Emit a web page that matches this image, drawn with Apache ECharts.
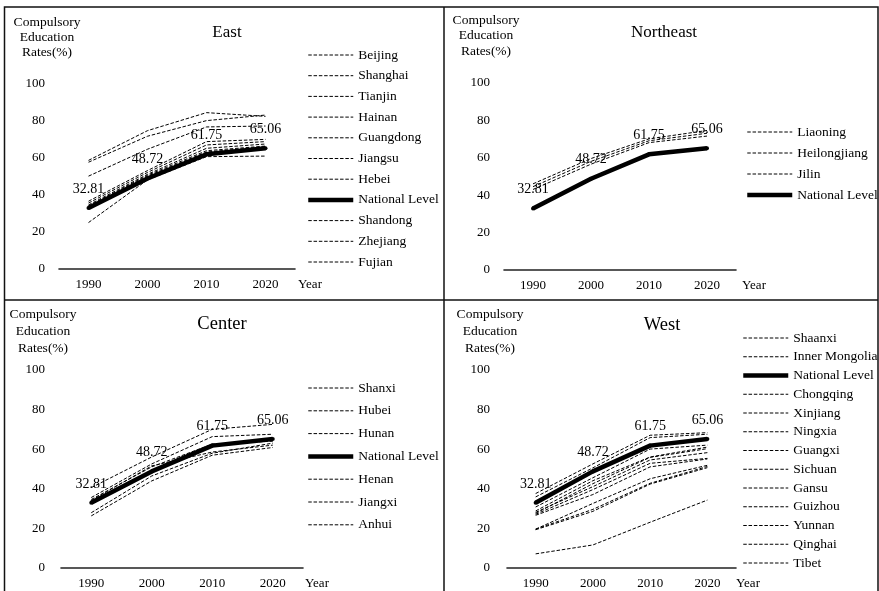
<!DOCTYPE html>
<html>
<head>
<meta charset="utf-8">
<script src="https://cdn.jsdelivr.net/npm/echarts@6/dist/echarts.min.js"></script>
<style>
  html, body { margin: 0; padding: 0; background: #fff; }
  #chart { width: 879px; height: 591px; }
</style>
</head>
<body>
<div id="chart"></div>
<script>
// Census years on the category axis
const years = ['1990', '2000', '2010', '2020'];
// Y-axis ticks (percent)
const yTicks = [0, 20, 40, 60, 80, 100];

// National average, shown in every panel
const nationalLevel = [32.81, 48.72, 61.75, 65.06];

// East
const beijing   = [58.5, 74.5, 84.2, 82.2];
const shanghai  = [57.5, 71.5, 79.9, 82.9];
const tianjin   = [50.0, 64.5, 76.5, 77.0];
const hainan    = [33.5, 50.0, 63.0, 65.8];
const guangdong = [36.5, 53.0, 68.6, 69.8];
const jiangsu   = [35.5, 52.0, 66.8, 68.6];
const hebei     = [25.0, 48.0, 60.5, 60.8];
const shandong  = [34.5, 51.0, 65.0, 67.3];
const zhejiang  = [34.0, 50.5, 63.7, 66.2];
const fujian    = [33.0, 49.5, 62.5, 64.5];

// Northeast
const liaoning     = [46.0, 59.5, 70.0, 74.5];
const heilongjiang = [44.5, 58.0, 69.0, 73.0];
const jilin        = [43.0, 56.5, 68.0, 71.5];

// Center
const shanxi  = [35.5, 52.5, 66.3, 67.5];
const hubei   = [40.5, 56.0, 70.0, 72.5];
const hunan   = [34.5, 51.0, 62.5, 64.0];
const henan   = [27.8, 46.4, 57.9, 63.0];
const jiangxi = [26.2, 43.9, 56.9, 60.8];
const anhui   = [34.0, 51.5, 58.5, 62.0];

// West
const shaanxi       = [37.5, 52.5, 67.0, 68.3];
const innerMongolia = [35.8, 50.5, 65.8, 67.5];
const chongqing     = [30.7, 45.5, 60.0, 62.0];
const xinjiang      = [28.7, 44.0, 56.0, 61.0];
const ningxia       = [27.5, 42.5, 55.8, 60.2];
const guangxi       = [28.0, 41.0, 54.5, 58.2];
const sichuan       = [27.0, 39.5, 52.8, 55.3];
const gansu         = [26.5, 37.0, 51.0, 55.0];
const guizhou       = [19.5, 32.5, 45.0, 51.8];
const yunnan        = [19.5, 29.5, 42.7, 51.2];
const qinghai       = [19.2, 28.5, 42.3, 50.6];
const tibet         = [7.0, 11.5, 23.0, 34.2];

const NATIONAL = 'National Level';
const SERIF = '"Liberation Serif", "Times New Roman", serif';
const DASH = [3.5, 1.8];

// Regions: legend order (National Level placed where it appears in each legend)
const panels = [
  {
    title: 'East',
    series: [['Beijing', beijing], ['Shanghai', shanghai], ['Tianjin', tianjin], ['Hainan', hainan],
             ['Guangdong', guangdong], ['Jiangsu', jiangsu], ['Hebei', hebei], [NATIONAL, nationalLevel],
             ['Shandong', shandong], ['Zhejiang', zhejiang], ['Fujian', fujian]],
    grid: { left: 59, top: 83.3, width: 236, height: 185.7 },
    titlePos: [227, 24], namePos: [47, 15], nameLH: 15,
    legend: { left: 306, top: 48, gap: 6.7, font: 13.5 },
    labelMargin: 14, yearGap: 3
  },
  {
    title: 'Northeast',
    series: [['Liaoning', liaoning], ['Heilongjiang', heilongjiang], ['Jilin', jilin], [NATIONAL, nationalLevel]],
    grid: { left: 504, top: 82.7, width: 232, height: 187.3 },
    titlePos: [664, 24], namePos: [486, 12.5], nameLH: 15.5,
    legend: { left: 745, top: 125, gap: 7, font: 13.5 },
    labelMargin: 14, yearGap: 6
  },
  {
    title: 'Center',
    series: [['Shanxi', shanxi], ['Hubei', hubei], ['Hunan', hunan], [NATIONAL, nationalLevel],
             ['Henan', henan], ['Jiangxi', jiangxi], ['Anhui', anhui]],
    grid: { left: 61, top: 370, width: 242, height: 197.7 },
    titlePos: [222, 315], namePos: [43, 305.5], nameLH: 17,
    legend: { left: 306, top: 381, gap: 8.8, font: 13.5 },
    labelMargin: 16, yearGap: 2
  },
  {
    title: 'West',
    series: [['Shaanxi', shaanxi], ['Inner Mongolia', innerMongolia], [NATIONAL, nationalLevel],
             ['Chongqing', chongqing], ['Xinjiang', xinjiang], ['Ningxia', ningxia], ['Guangxi', guangxi],
             ['Sichuan', sichuan], ['Gansu', gansu], ['Guizhou', guizhou], ['Yunnan', yunnan],
             ['Qinghai', qinghai], ['Tibet', tibet]],
    grid: { left: 507, top: 370, width: 229, height: 197.7 },
    titlePos: [662, 316], namePos: [490, 306], nameLH: 17,
    legend: { left: 741, top: 331, gap: 4.75, font: 13.5 },
    labelMargin: 17, yearGap: 0
  }
];

const grids = [], xAxes = [], yAxes = [], series = [], legends = [], titles = [], graphics = [];

panels.forEach((p, i) => {
  grids.push(Object.assign({ containLabel: false }, p.grid));

  xAxes.push({
    type: 'category', gridIndex: i, data: years, boundaryGap: true,
    axisLine: { lineStyle: { color: '#222', width: 1.6 } },
    axisTick: { show: false },
    axisLabel: { color: '#000', fontFamily: SERIF, fontSize: 13, margin: 9 },
    name: 'Year', nameLocation: 'end', nameGap: p.yearGap,
    nameTextStyle: { color: '#000', fontFamily: SERIF, fontSize: 13, verticalAlign: 'top', padding: [9, 0, 0, 0] }
  });

  yAxes.push({
    type: 'value', gridIndex: i, min: yTicks[0], max: yTicks[yTicks.length - 1],
    interval: yTicks[1] - yTicks[0],
    axisLine: { show: false }, axisTick: { show: false }, splitLine: { show: false },
    axisLabel: { color: '#000', fontFamily: SERIF, fontSize: 13, margin: p.labelMargin }
  });

  p.series.forEach(([name, values]) => {
    const isNational = name === NATIONAL;
    series.push({
      type: 'line', name, data: values, xAxisIndex: i, yAxisIndex: i,
      silent: true, z: isNational ? 3 : 2,
      symbol: isNational ? 'circle' : 'none',
      symbolSize: 4, showSymbol: isNational,
      itemStyle: { color: '#000' },
      lineStyle: isNational
        ? { color: '#000', width: 4.5, type: 'solid' }
        : { color: '#000', width: 1, type: DASH },
      label: isNational
        ? { show: true, position: 'top', distance: 10, color: '#000', fontFamily: SERIF, fontSize: 14 }
        : { show: false }
    });
  });

  legends.push({
    orient: 'vertical', left: p.legend.left, top: p.legend.top,
    itemWidth: 45, itemHeight: 14, itemGap: p.legend.gap, padding: 0,
    selectedMode: false,
    itemStyle: { opacity: 0 },
    data: p.series.map(([name]) => name === NATIONAL
      ? { name, lineStyle: { width: 4.5, color: '#000', type: 'solid' } }
      : { name, lineStyle: { width: 1, color: '#000', type: DASH } }),
    textStyle: { color: '#000', fontFamily: SERIF, fontSize: p.legend.font, lineHeight: 14 }
  });

  titles.push({
    text: p.title, left: p.titlePos[0], top: p.titlePos[1], padding: 0, textAlign: 'center',
    textStyle: { color: '#000', fontFamily: SERIF, fontSize: i < 2 ? 17 : 18.5, fontWeight: 'normal' }
  });

  graphics.push({
    type: 'text', x: p.namePos[0], y: p.namePos[1],
    style: {
      text: 'Compulsory\nEducation\nRates(%)', fill: '#000', font: '13.5px ' + SERIF,
      align: 'center', verticalAlign: 'top', lineHeight: p.nameLH
    }
  });
});

// Panel frame and dividers
graphics.push(
  { type: 'rect', shape: { x: 4.5, y: 7, width: 873.5, height: 600 },
    style: { fill: 'none', stroke: '#111', lineWidth: 1.5 } },
  { type: 'line', shape: { x1: 444, y1: 7, x2: 444, y2: 591 },
    style: { stroke: '#111', lineWidth: 1.5 } },
  { type: 'line', shape: { x1: 4.5, y1: 300, x2: 878, y2: 300 },
    style: { stroke: '#111', lineWidth: 1.5 } }
);

const chart = echarts.init(document.getElementById('chart'), null, { renderer: 'canvas' });
chart.setOption({
  animation: false,
  backgroundColor: '#fff',
  title: titles,
  grid: grids,
  xAxis: xAxes,
  yAxis: yAxes,
  legend: legends,
  series: series,
  graphic: graphics
});
</script>
</body>
</html>
